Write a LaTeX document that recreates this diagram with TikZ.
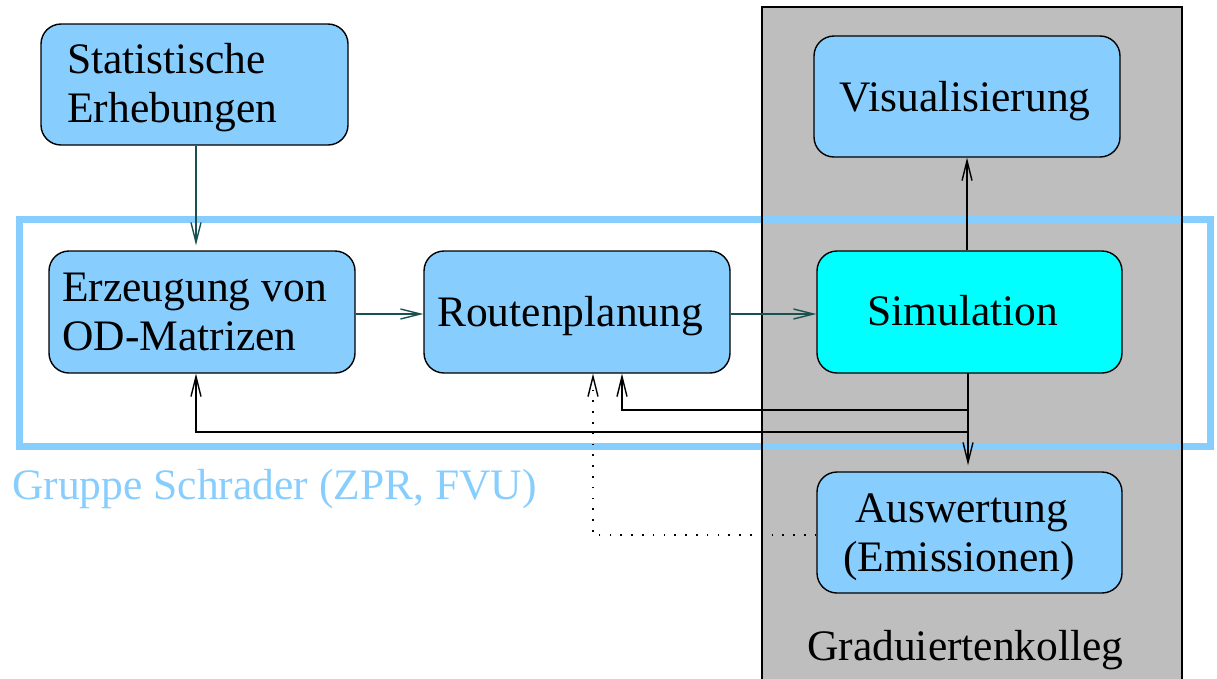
\documentclass[tikz,border=0pt]{standalone}
\usepackage{fontspec}
\setmainfont{Liberation Serif}
\usetikzlibrary{arrows.meta}
\definecolor{lblue}{RGB}{135,206,255}
\definecolor{kgray}{RGB}{190,190,190}
\definecolor{kcyan}{RGB}{0,255,255}
\definecolor{teal}{RGB}{25,80,80}
\newcommand\bigtxt{\fontsize{43.5pt}{49pt}\selectfont}
\begin{document}
\begin{tikzpicture}[x=1pt,y=-1pt,
  boxstyle/.style={draw=black, line width=1.4pt, rounded corners=20pt, fill=lblue, inner sep=0pt},
  txt/.style={font=\bigtxt, inner sep=0pt, text=black},
  arr/.style={line width=1.4pt, -{Straight Barb[length=20pt,width=10pt]}},
  fb/.style={line width=1.4pt, black}
]
\useasboundingbox (0,0) rectangle (1217,678);
% Graduiertenkolleg panel
\fill[kgray] (762,7) rectangle (1182,700);
% Gruppe Schrader frame
\draw[lblue, line width=7pt] (19.5,219) rectangle (1210.5,446.5);
\draw[black, line width=1.4pt] (762,700) -- (762,7) -- (1182,7) -- (1182,700);

% boxes
\node[boxstyle, minimum width=307pt, minimum height=121pt] (stat) at (194.5,84.5) {};
\node[boxstyle, minimum width=306pt, minimum height=121pt] (vis) at (967,96.5) {};
\node[boxstyle, minimum width=306pt, minimum height=122pt] (erz) at (202,312) {};
\node[boxstyle, minimum width=306pt, minimum height=122pt] (rout) at (577,312) {};
\node[boxstyle, fill=kcyan, minimum width=305pt, minimum height=122pt] (sim) at (969.5,312) {};
\node[boxstyle, minimum width=305pt, minimum height=121pt] (ausw) at (969.5,532.5) {};

% texts
\node[txt, anchor=base west] (stat1) at (67,73) {Statistische};
\node[txt, anchor=base west] (stat2) at (67,122) {Erhebungen};
\node[txt, anchor=base] (visT) at (965,111) {Visualisierung};
\node[txt, anchor=base west] (erz1) at (62,301) {Erzeugung von};
\node[txt, anchor=base west] (erz2) at (62,350) {OD-Matrizen};
\node[txt, anchor=base west] (routT) at (437,326) {Routenplanung};
\node[txt, anchor=base west] (simT) at (867,325.5) {Simulation};
\node[txt, anchor=base] (ausw1) at (961.5,522) {Auswertung};
\node[txt, anchor=base] (ausw2) at (959,571) {(Emissionen)};
\node[txt, anchor=base west] (grad) at (807,660) {Graduiertenkolleg};
\node[txt, anchor=base west, text=lblue] (gruppe) at (12,499) {Gruppe Schrader (ZPR, FVU)};

% coordinates
\coordinate (sx) at (968,373);
\coordinate (j1) at (968,410);
\coordinate (j2) at (968,432);
\coordinate (r1) at (622,410);
\coordinate (e1) at (196,432);
\coordinate (d0) at (817,535);
\coordinate (d1) at (593,535);

% main flow
\draw[arr, teal, shorten >=5pt] (stat.south -| e1) -- (erz.north -| e1);
\draw[arr, teal] (erz.east |- 0,314) -- (rout.west |- 0,314);
\draw[arr, teal] (rout.east |- 0,314) -- (sim.west |- 0,314);
\draw[arr, black] (sim.north -| 967,0) -- (vis.south -| 967,0);
\draw[arr, black, shorten >=6pt] (sx) -- (ausw.north -| sx);

% feedback
\draw[arr, black] (j1) -- (r1) -- (rout.south -| r1);
\draw[arr, black] (j2) -- (e1) -- (erz.south -| e1);
\draw[arr, black, line width=1.4pt, dash pattern=on 1.6pt off 9.2pt] (ausw.west |- d0) -- (d1) -- (rout.south -| d1);
\end{tikzpicture}
\end{document}
